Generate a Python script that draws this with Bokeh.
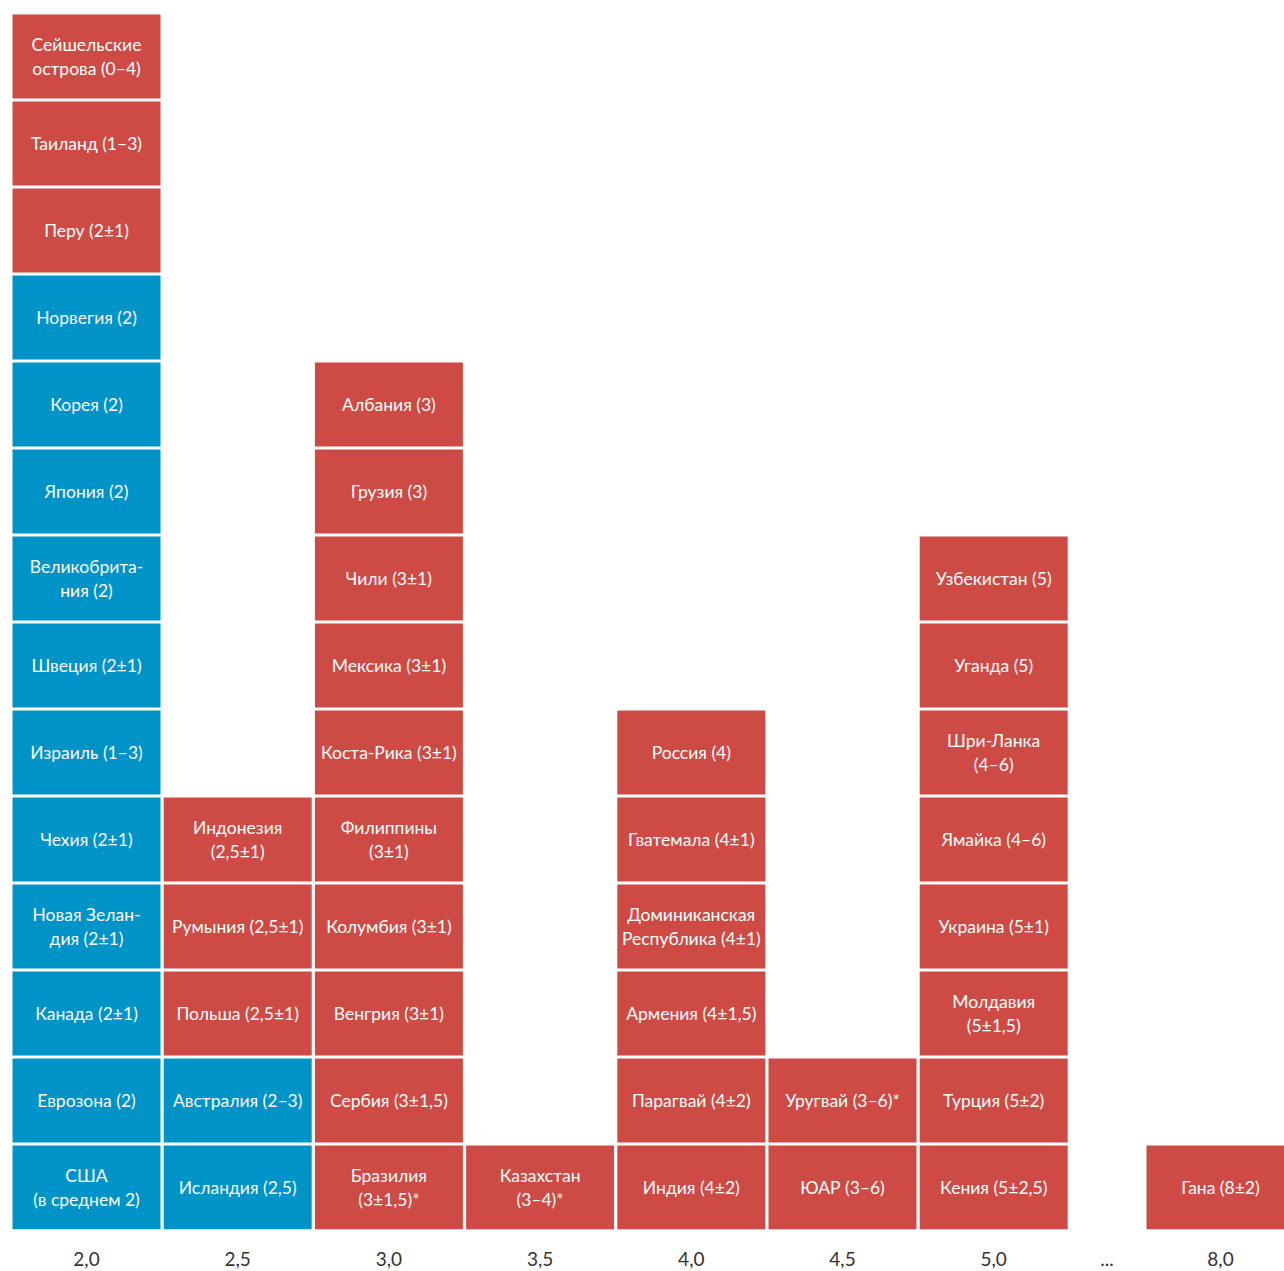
from bokeh.plotting import figure
from bokeh.models import FixedTicker, ColumnDataSource, Range1d
from bokeh.core.properties import value
from bokeh.embed import file_html
from bokeh.resources import INLINE

# ---- data -------------------------------------------------------------
tick_labels = ["2,0", "2,5", "3,0", "3,5", "4,0", "4,5", "5,0", "...", "8,0"]
slot_pos = [0, 1, 2, 3, 4, 5, 6, 6.75, 7.5]   # horizontal slots (gap slot "..." narrower)

# each column listed bottom -> top; colour group: "a" = blue, "b" = red
col_20 = ["США\n(в среднем 2)", "Еврозона (2)", "Канада (2±1)", "Новая Зелан-\nдия (2±1)",
          "Чехия (2±1)", "Израиль (1–3)", "Швеция (2±1)", "Великобрита-\nния (2)",
          "Япония (2)", "Корея (2)", "Норвегия (2)", "Перу (2±1)", "Таиланд (1–3)",
          "Сейшельские\nострова (0–4)"]
grp_20 = ["a"] * 11 + ["b"] * 3
col_25 = ["Исландия (2,5)", "Австралия (2–3)", "Польша (2,5±1)", "Румыния (2,5±1)",
          "Индонезия\n(2,5±1)"]
grp_25 = ["a", "a", "b", "b", "b"]
col_30 = ["Бразилия\n(3±1,5)*", "Сербия (3±1,5)", "Венгрия (3±1)", "Колумбия (3±1)",
          "Филиппины\n(3±1)", "Коста-Рика (3±1)", "Мексика (3±1)", "Чили (3±1)",
          "Грузия (3)", "Албания (3)"]
grp_30 = ["b"] * 10
col_35 = ["Казахстан\n(3–4)*"]
grp_35 = ["b"]
col_40 = ["Индия (4±2)", "Парагвай (4±2)", "Армения (4±1,5)",
          "Доминиканская\nРеспублика (4±1)", "Гватемала (4±1)", "Россия (4)"]
grp_40 = ["b"] * 6
col_45 = ["ЮАР (3–6)", "Уругвай (3–6)*"]
grp_45 = ["b"] * 2
col_50 = ["Кения (5±2,5)", "Турция (5±2)", "Молдавия\n(5±1,5)", "Украина (5±1)",
          "Ямайка (4–6)", "Шри-Ланка\n(4–6)", "Уганда (5)", "Узбекистан (5)"]
grp_50 = ["b"] * 8
col_gap = []
grp_gap = []
col_80 = ["Гана (8±2)"]
grp_80 = ["b"]

columns = [col_20, col_25, col_30, col_35, col_40, col_45, col_50, col_gap, col_80]
groups = [grp_20, grp_25, grp_30, grp_35, grp_40, grp_45, grp_50, grp_gap, grp_80]

BLUE = "#0093C8"
RED = "#CE4B45"
colour_of = {"a": BLUE, "b": RED}

# ---- build source -----------------------------------------------------
xs, ys, texts, colors = [], [], [], []
for pos, labels, grps in zip(slot_pos, columns, groups):
    for i, (lab, g) in enumerate(zip(labels, grps)):
        xs.append(pos)
        ys.append(i)
        texts.append(lab)
        colors.append(colour_of[g])
src = ColumnDataSource(dict(x=xs, y=ys, text=texts, color=colors))

# ---- figure -----------------------------------------------------------
W, H = 1284, 1271
BOTTOM = 42
col_pitch = 151.2
row_pitch = 87.0
p = figure(width=W, height=H, output_backend="svg", toolbar_location=None,
           min_border_left=0, min_border_right=0, min_border_top=0,
           min_border_bottom=BOTTOM)
x0 = -86 / col_pitch
p.x_range = Range1d(x0, x0 + W / col_pitch)
frame_h = H - BOTTOM
y1 = 13 + 56 / row_pitch
p.y_range = Range1d(y1 - frame_h / row_pitch, y1)

p.rect(x="x", y="y", width=148 / col_pitch, height=84 / row_pitch, source=src,
       fill_color="color", line_color=None)
p.text(x="x", y="y", text="text", source=src, text_color="white",
       text_align="center", text_baseline="middle", text_font=value("Lato"),
       text_font_size="17.5px", text_line_height=1.12)

p.yaxis.visible = False
p.xgrid.visible = False
p.ygrid.visible = False
p.outline_line_color = None
p.xaxis.ticker = FixedTicker(ticks=slot_pos)
p.xaxis.major_label_overrides = {float(s): t for s, t in zip(slot_pos, tick_labels)}
p.xaxis.axis_line_color = None
p.xaxis.major_tick_line_color = None
p.xaxis.minor_tick_line_color = None
p.xaxis.major_tick_out = 0
p.xaxis.major_tick_in = 0
p.xaxis.major_label_standoff = 22
p.xaxis.major_label_text_font = "Lato"
p.xaxis.major_label_text_font_size = "19px"
p.xaxis.major_label_text_color = "#333333"

open("out.html", "w").write(file_html(p, INLINE))
